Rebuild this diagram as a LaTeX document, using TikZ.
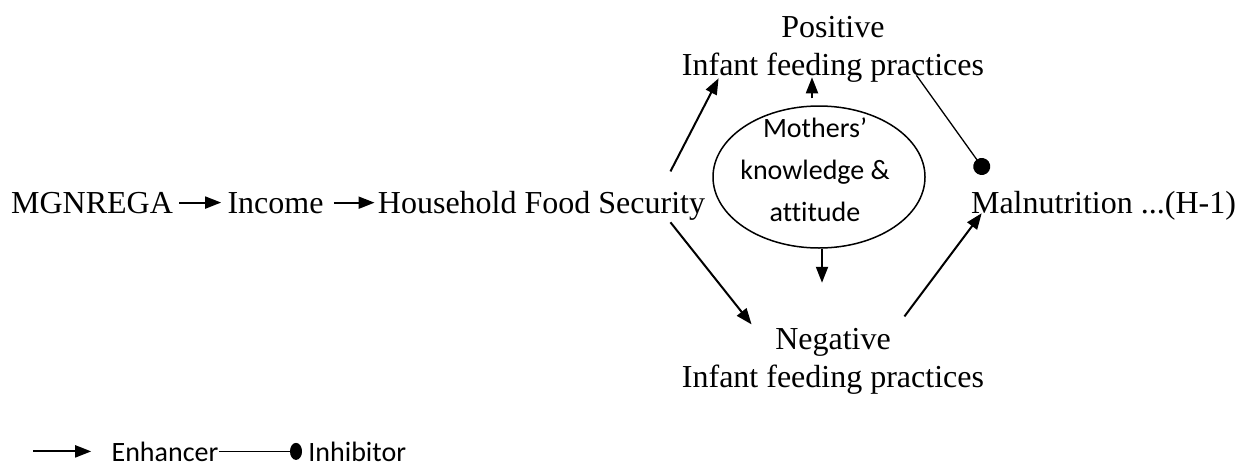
\documentclass[tikz,border=0pt]{standalone}
\usepackage{fontspec}
\setmainfont{Liberation Serif}
\newfontfamily\calfont[Ligatures=CommonOff]{Carlito}
\usetikzlibrary{arrows.meta,positioning,shapes.geometric}

\begin{document}
\begin{tikzpicture}[x=0.5pt,y=0.5pt,
    txt/.style={inner sep=0pt,font=\fontsize{16}{19}\selectfont,align=center},
    cal/.style={inner sep=0pt,font=\calfont\fontsize{14}{21}\selectfont,align=center},
    enh/.style={line width=1pt,-{Triangle[length=8pt,width=6pt]}},
    inh/.style={line width=0.65pt,-{Circle[length=8.5pt]}}]
    \useasboundingbox (0,0) rectangle (1241,-461);
    \node [txt,anchor=base] (mgnrega) at (92,-213) {MGNREGA};
    \node [txt,anchor=base] (income) at (275.5,-213) {Income};
    \node [txt,anchor=base] (hfs) at (541.5,-213) {Household Food Security};
    \node [txt,anchor=base] (pos) at (833,-75) {Positive\\Infant feeding practices};
    \node [txt,anchor=base] (neg) at (833,-387) {Negative\\Infant feeding practices};
    \node [txt,anchor=base] (maln) at (1103.5,-213) {Malnutrition ...(H-1)};
    \node [ellipse,draw,line width=0.75pt,minimum width=106pt,minimum height=71pt,inner sep=0pt] (mka) at (819,-177) {};
    \node [cal,anchor=base] (mkatext) at (815,-221) {Mothers’\\knowledge \&\\attitude};
    \draw [enh,shorten <=3pt,shorten >=3pt] (mgnrega.east) -- (mgnrega.east -| income.west);
    \draw [enh,shorten <=5pt,shorten >=1.5pt] (income.east) -- (income.east -| hfs.west);
    \draw [enh] ([xshift=-17.5pt,yshift=9.5pt]hfs.north east) -- ([xshift=18.5pt,yshift=2pt]pos.south west);
    \draw [enh] ([xshift=-17.5pt,yshift=-1pt]hfs.south east) -- ([xshift=35pt,yshift=1.5pt]neg.north west);
    \draw [enh] ([xshift=-40pt,yshift=5.5pt]neg.north east) -- ([xshift=5.5pt,yshift=3.5pt]maln.south west);
    \draw [inh] ([xshift=-34pt,yshift=3.5pt]pos.south east) -- ([xshift=8pt,yshift=8.5pt]maln.north west);
    \draw [enh,shorten <=3.5pt] ([xshift=-3.5pt]mka.north) -- ([xshift=-3.5pt,yshift=2.5pt]mka.north |- pos.south);
    \draw [enh] ([xshift=1.5pt]mka.south) -- ++(0,-34);
    \node [cal,anchor=base] (enhkey) at (165,-461) {Enhancer};
    \node [cal,anchor=base west] (inhkey) at (308,-461) {Inhibitor};
    \draw [enh] ([xshift=-39pt]enhkey.west) -- ([xshift=-10pt]enhkey.west);
    \draw [line width=0.65pt,-{Circle[length=6pt,width=8.5pt]},shorten >=3pt] (enhkey.east) -- (inhkey.west);
\end{tikzpicture}
\end{document}
